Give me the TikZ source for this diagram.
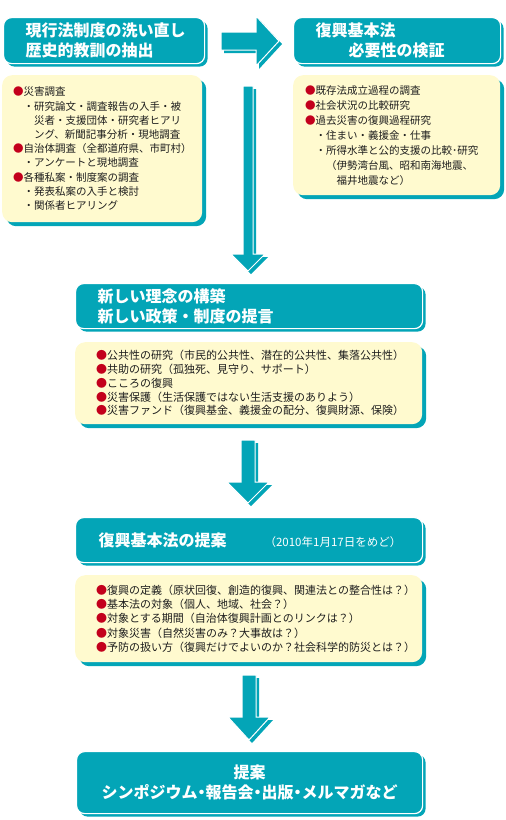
\documentclass[tikz,border=0pt]{standalone}
\usepackage{fontspec}
\setmainfont{Noto Sans CJK JP}
\usetikzlibrary{shadows,positioning}
\definecolor{tealb}{HTML}{03A5B7}
\definecolor{cream}{HTML}{FFFACF}
\definecolor{dotred}{HTML}{C3001C}
\definecolor{ink}{HTML}{1E1E1E}
\newcommand{\rdot}{{\color{dotred}●}}
\newcommand{\pdot}{{\addfontfeature{RawFeature=+palt}・}}
\tikzset{
  hdr/.style={fill=tealb,draw=white,line width=1.2pt,rounded corners=8pt,text=white,align=left,anchor=north west,
    font=\fontsize{16}{20}\selectfont\bfseries,general shadow={shadow xshift=3pt,shadow yshift=-3pt,fill=tealb}},
  lst/.style={fill=cream,rounded corners=10pt,text=ink,align=left,anchor=north west,inner ysep=0pt,
    general shadow={shadow xshift=4pt,shadow yshift=-4pt,fill=tealb}},
  blk/.style={fill=tealb,draw=white,line width=1pt,general shadow={shadow xshift=3pt,shadow yshift=-3pt,fill=tealb}},
}

\begin{document}
\begin{tikzpicture}[x=1pt,y=-1pt]
\useasboundingbox (0,0) rectangle (506,820);
% top row
\node[hdr,minimum width=201,minimum height=46,inner xsep=22,text width=157] (hdrA) at (3,17) {現行法制度の洗い直し\\歴史的教訓の抽出};
\node[hdr,minimum width=207,minimum height=46,inner xsep=22,text width=163] (hdrB) at (293,17) {復興基本法\\\hspace*{33pt}必要性の検証};
\node[lst,minimum width=200,minimum height=147,inner xsep=11,text width=178,font=\fontsize{10.5}{14.2}\selectfont] (lstA) at (2,75) {\rdot 災害調査\\
\hspace*{1em}・研究論文・調査報告の入手・被\\
\hspace*{2em}災者・支援団体・研究者ヒアリ\\
\hspace*{2em}ング、新聞記事分析・現地調査\\
\rdot 自治体調査（全都道府県、市町村）\\
\hspace*{1em}・アンケートと現地調査\\
\rdot 各種私案・制度案の調査\\
\hspace*{1em}・発表私案の入手と検討\\
\hspace*{1em}・関係者ヒアリング};
\node[lst,minimum width=207,minimum height=120,inner xsep=12,text width=183,font=\fontsize{10.5}{15}\selectfont] (lstB) at (293,75) {\rdot 既存法成立過程の調査\\
\rdot 社会状況の比較研究\\
\rdot 過去災害の復興過程研究\\
\hspace*{1em}・住まい・義援金・仕事\\
\hspace*{1em}・所得水準と公的支援の比較･研究\\
\hspace*{2em}（伊勢湾台風、昭和南海地震、\\
\hspace*{3em}福井地震など）};
% middle
\node[hdr,minimum width=347,minimum height=45,inner xsep=22,text width=303] (hdrC) at (75,283) {新しい理念の構築\\新しい政策・制度の提言};
\node[lst,minimum width=347,minimum height=82,inner xsep=21,text width=305,font=\fontsize{11}{13.8}\selectfont] (lstC) at (75,342) {\rdot 公共性の研究（市民的公共性、潜在的公共性、集落公共性）\\
\rdot 共助の研究（孤独死、見守り、サポート）\\
\rdot こころの復興\\
\rdot 災害保護（生活保護ではない生活支援のありよう）\\
\rdot 災害ファンド（復興基金、義援金の配分、復興財源、保険）};
\node[hdr,minimum width=347,minimum height=45,inner xsep=23,text width=301] (hdrD) at (75,517) {復興基本法の提案\hspace*{38pt}{\fontsize{11.5}{12}\selectfont\mdseries （2010年1月17日をめど）}};
\node[lst,minimum width=347,minimum height=87,inner xsep=21,text width=305,font=\fontsize{11}{14.2}\selectfont] (lstD) at (75,575) {\rdot 復興の定義（原状回復、創造的復興、関連法との整合性は？）\\
\rdot 基本法の対象（個人、地域、社会？）\\
\rdot 対象とする期間（自治体復興計画とのリンクは？）\\
\rdot 対象災害（自然災害のみ？大事故は？）\\
\rdot 予防の扱い方（復興だけでよいのか？社会科学的防災とは？）};
% bottom
\node[hdr,align=center,minimum width=346,minimum height=62,inner xsep=10,text width=326] (hdrE) at (76,751) {提案\\シンポジウム\pdot 報告会\pdot 出版\pdot メルマガなど};
% block arrows
\coordinate (rA) at (221,41);
\coordinate (dA) at (248,86);
\coordinate (dB) at (248,440);
\coordinate (dC) at (249,675);
\path[blk] (rA) ++(0,-9) -- ++(35,0) -- ++(0,-16) -- ++(23,25) -- ++(-23,25) -- ++(0,-16) -- ++(-35,0) -- cycle;
\path[blk] (dA) ++(-5,0) -- ++(10,0) -- ++(0,168) -- ++(12,0) -- ++(-17,17) -- ++(-17,-17) -- ++(12,0) -- cycle;
\path[blk] (dB) ++(-7,0) -- ++(14,0) -- ++(0,42) -- ++(14,0) -- ++(-21,21) -- ++(-21,-21) -- ++(14,0) -- cycle;
\path[blk] (dC) ++(-7,0) -- ++(14,0) -- ++(0,42) -- ++(14,0) -- ++(-21,23) -- ++(-21,-23) -- ++(14,0) -- cycle;
\end{tikzpicture}
\end{document}
